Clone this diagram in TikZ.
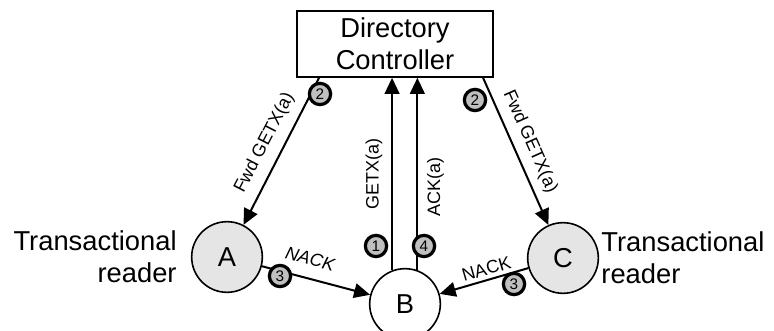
\documentclass[tikz,border=0pt]{standalone}
\usepackage{fontspec}
\setmainfont{Liberation Sans}
\usetikzlibrary{arrows.meta,positioning}
\begin{document}
\begin{tikzpicture}[x=0.75pt,y=-0.75pt,
  font=\fontsize{20.5}{24}\selectfont,
  msg/.style={-{Triangle[length=12pt,width=11pt]},line width=1.5pt},
  cache/.style={circle,draw,line width=1.2pt,minimum size=53pt,inner sep=0pt},
  reader/.style={cache,fill=black!10},
  badge/.style={circle,draw,line width=2.4pt,fill=black!25,minimum size=16pt,inner sep=0pt,font=\fontsize{11.5}{11.5}\selectfont},
  lbl/.style={font=\fontsize{13.5}{13.5}\selectfont,sloped,inner sep=6.5pt}]
  \useasboundingbox (0,0) rectangle (774,331);
  % directory on top
  \node[draw,line width=1.2pt,minimum width=147pt,minimum height=49.5pt,align=center] (dir) at (395,44) {Directory\\Controller};
  % the three caches
  \node[reader] (A) at (227,257) {A};
  \node[cache] (B) at (405,304) {B};
  \node[reader] (C) at (563,258) {C};
  \node[left=10.5pt of A,inner sep=0pt,align=right] (readerA) {Transactional\\reader};
  \node[right=1.5pt of C,inner sep=0pt,align=left] (readerC) {Transactional\\reader};
  % messages
  \draw[msg] (dir.204.6) -- node[lbl,above,pos=0.5,inner sep=7pt] {Fwd GETX(a)} (A);
  \draw[msg] (dir.-21.9) -- node[lbl,above,pos=0.48,inner sep=5.7pt] {Fwd GETX(a)} (C);
  \draw[msg] (B.111.2) -- node[lbl,above,pos=0.5] {GETX(a)} (B.111.2 |- dir.south);
  \draw[msg] (B.70.5) -- node[lbl,below,pos=0.43] {ACK(a)} (B.70.5 |- dir.south);
  \draw[msg] (A) -- node[lbl,above,pos=0.4,inner sep=9pt,font=\fontsize{13.5}{13.5}\selectfont\itshape] {NACK} (B);
  \draw[msg] (C) -- node[lbl,above,pos=0.44,inner sep=2.6pt] {NACK} (B);
  % step numbers
  \foreach \bx/\by/\bn/\nm in {320/94/2/fwdA, 475/100/2/fwdC, 376/246/1/getx, 424/246/4/ack, 280/276/3/nackA, 514/284/3/nackC}
    \node[badge] (\nm) at (\bx,\by) {\bn};
\end{tikzpicture}
\end{document}
